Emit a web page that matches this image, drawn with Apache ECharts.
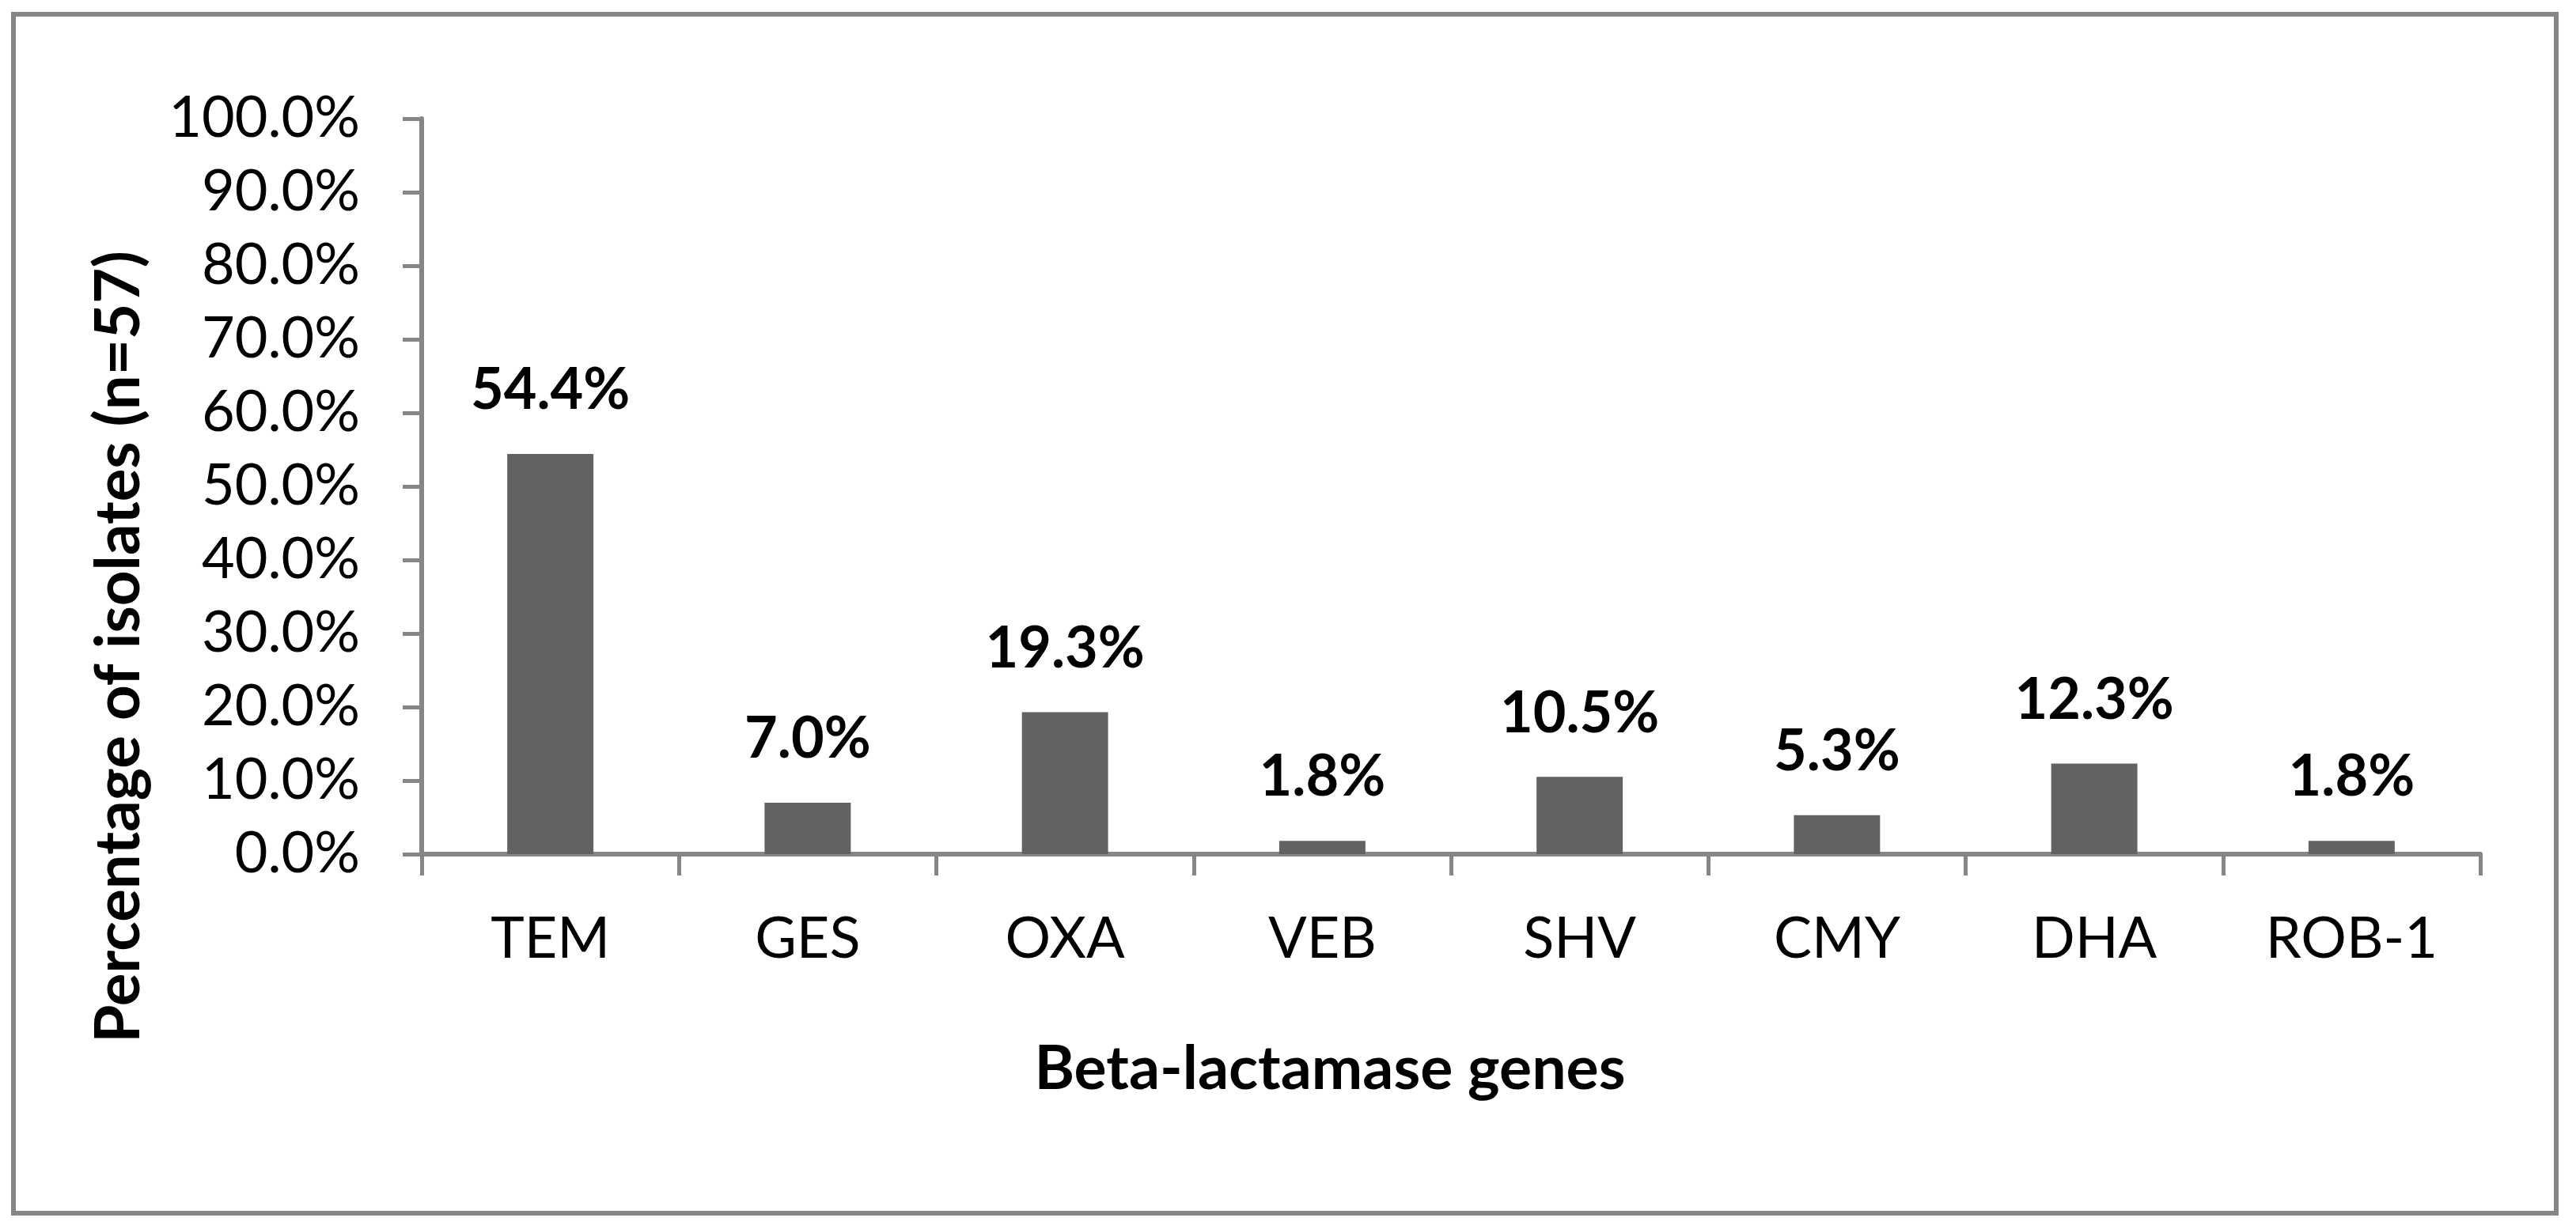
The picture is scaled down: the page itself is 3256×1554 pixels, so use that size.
<!DOCTYPE html>
<html>
<head>
<meta charset="utf-8">
<script src="https://cdn.jsdelivr.net/npm/echarts@6/dist/echarts.min.js"></script>
<style>
  html, body { margin: 0; padding: 0; background: #fff; }
  #chart { position: absolute; left: 0; top: 0; width: 3256px; height: 1554px; }
  #frame { position: absolute; left: 14px; top: 15px; width: 3220px; height: 1522px;
           box-sizing: border-box; border: 6px solid #868686; pointer-events: none; }
</style>
</head>
<body>
<div id="chart"></div>
<div id="frame"></div>
<script>
const categories = ['TEM', 'GES', 'OXA', 'VEB', 'SHV', 'CMY', 'DHA', 'ROB-1'];
const percentages = [54.4, 7.0, 19.3, 1.8, 10.5, 5.3, 12.3, 1.8];
const yTicks = { min: 0, max: 100, interval: 10 };
const xTitle = 'Beta-lactamase genes';
const yTitle = 'Percentage of isolates (n=57)';

const FONT = 'Lato';
const AXIS_COLOR = '#868686';

const chart = echarts.init(document.getElementById('chart'), null, { renderer: 'canvas' });
chart.setOption({
  backgroundColor: '#ffffff',
  animation: false,
  grid: { left: 533, right: 121, top: 150, bottom: 474, containLabel: false },
  xAxis: {
    type: 'category',
    data: categories,
    boundaryGap: true,
    name: xTitle,
    nameLocation: 'middle',
    nameGap: 234,
    nameTextStyle: { fontFamily: FONT, fontWeight: 'bold', fontSize: 77, color: '#000', padding: [0, 306, 0, 0] },
    axisLine: { show: true, lineStyle: { color: AXIS_COLOR, width: 6 } },
    axisTick: { show: true, length: 27, inside: false, alignWithLabel: false, lineStyle: { color: AXIS_COLOR, width: 5 } },
    axisLabel: { fontFamily: FONT, fontSize: 72, color: '#000', margin: 72, interval: 0 },
    splitLine: { show: false }
  },
  yAxis: {
    type: 'value',
    min: yTicks.min,
    max: yTicks.max,
    interval: yTicks.interval,
    name: yTitle,
    nameLocation: 'middle',
    nameGap: 343,
    nameTextStyle: { fontFamily: FONT, fontWeight: 'bold', fontSize: 78, color: '#000', padding: [0, 406, 0, 0] },
    axisLine: { show: true, lineStyle: { color: AXIS_COLOR, width: 6 } },
    axisTick: { show: true, length: 24, inside: false, lineStyle: { color: AXIS_COLOR, width: 5 } },
    axisLabel: { fontFamily: FONT, fontSize: 72, color: '#000', margin: 78,
      formatter: v => v.toFixed(1) + '%' },
    splitLine: { show: false }
  },
  series: [{
    type: 'bar',
    data: percentages,
    barWidth: '33.5%',
    itemStyle: { color: '#626262' },
    label: {
      show: true,
      position: 'top',
      distance: 44,
      fontFamily: FONT,
      fontWeight: 'bold',
      fontSize: 72,
      color: '#000',
      formatter: p => p.value.toFixed(1) + '%'
    }
  }]
});
</script>
</body>
</html>
